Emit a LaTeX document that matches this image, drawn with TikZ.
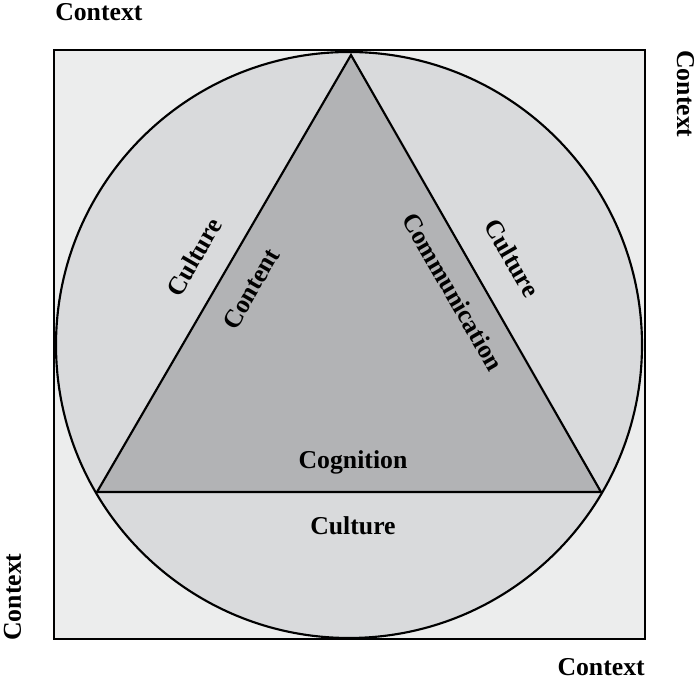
\documentclass[tikz,border=0pt]{standalone}
\usepackage{fontspec}
\setmainfont{Liberation Serif}
\usepackage{tikz}

\definecolor{ctxfill}{RGB}{236,237,237}
\definecolor{culfill}{RGB}{217,218,220}
\definecolor{trifill}{RGB}{178,179,181}

\begin{document}
\begin{tikzpicture}[x=0.75pt,y=0.75pt,yscale=-1,xscale=1,
	lbl/.style={font=\fontsize{19.3}{23}\selectfont\bfseries,inner sep=0pt}]
	\useasboundingbox (0,0) rectangle (697,680);
	
	%Shape: Square [id:ctxbox] 
	\draw [fill=ctxfill, line width=2] (54,50) rectangle (645,639) ;
	%Shape: Circle [id:culcircle] 
	\draw [fill=culfill, line width=1.6] (349,345) circle (293) ;
	%Shape: Triangle [id:cltriangle] 
	\draw [fill=trifill, line width=1.6, line join=miter] (351,55) -- (97,492) -- (601,492) -- cycle ;
	
	% Text Node
	\draw (55,21) node (ctxtop) [lbl, anchor=base west] {Context};
	% Text Node
	\draw (677,50) node (ctxright) [lbl, anchor=base west, rotate=-90] {Context};
	% Text Node
	\draw (21,641) node (ctxleft) [lbl, anchor=base west, rotate=90] {Context};
	% Text Node
	\draw (645,676) node (ctxbottom) [lbl, anchor=base east] {Context};
	% Text Node
	\draw (194,257) node (culleft) [lbl, rotate=60] {Culture};
	% Text Node
	\draw (512,258) node (culright) [lbl, rotate=-60] {Culture};
	% Text Node
	\draw (353,535) node (culbottom) [lbl, anchor=base] {Culture};
	% Text Node
	\draw (251,289) node (content) [lbl, rotate=60] {Content};
	% Text Node
	\draw (453,292) node (communication) [lbl, rotate=-60] {Communication};
	% Text Node
	\draw (353,469) node (cognition) [lbl, anchor=base] {Cognition};
	
\end{tikzpicture}
\end{document}
